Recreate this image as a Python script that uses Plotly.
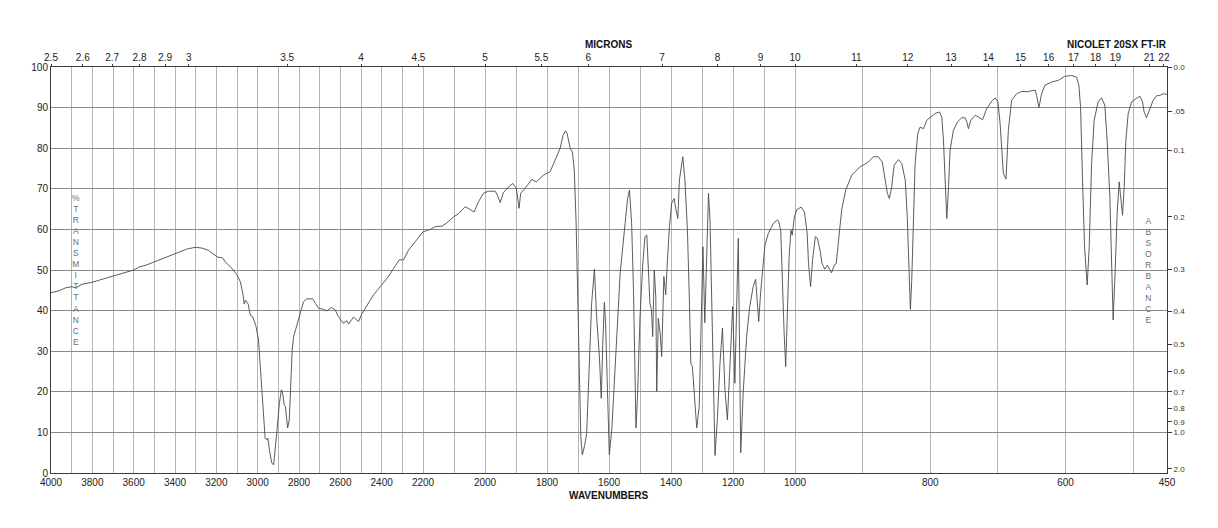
import plotly.graph_objects as go

# ---------------- data ----------------
wavenumber = [
    4000, 3960, 3930, 3900, 3880, 3850, 3800, 3760, 3720, 3700, 3660, 3630, 3600, 3570,
    3540, 3500, 3460, 3420, 3380, 3340, 3300, 3270, 3240, 3210, 3195, 3170, 3157, 3124,
    3100, 3084, 3072, 3065, 3059, 3046, 3036, 3024, 3008, 2996, 2984, 2975, 2964, 2954,
    2951, 2942, 2932, 2923, 2915, 2906, 2895, 2885, 2879, 2872, 2866, 2860, 2855, 2847,
    2840, 2833, 2826, 2809, 2794, 2778, 2762, 2734, 2721, 2705, 2681, 2665, 2644, 2625,
    2609, 2587, 2568, 2560, 2536, 2512, 2495, 2471, 2439, 2407, 2367, 2342, 2315, 2294,
    2270, 2237, 2200, 2176, 2160, 2139, 2123, 2101, 2085, 2064, 2048, 2035, 2021, 2005,
    1989, 1967, 1960, 1951, 1941, 1924, 1910, 1899, 1890, 1885, 1871, 1849, 1835, 1811,
    1790, 1779, 1768, 1758, 1748, 1740, 1735, 1725, 1718, 1712, 1706, 1702, 1696, 1691,
    1686, 1679, 1672, 1663, 1656, 1647, 1640, 1631, 1625, 1620, 1615, 1611, 1604, 1599,
    1591, 1580, 1564, 1548, 1540, 1534, 1527, 1521, 1518, 1513, 1508, 1500, 1491, 1484,
    1478, 1473, 1468, 1463, 1459, 1454, 1449, 1446, 1441, 1435, 1430, 1423, 1417, 1412,
    1405, 1398, 1390, 1384, 1378, 1373, 1366, 1362, 1355, 1347, 1341, 1336, 1331, 1322,
    1317, 1309, 1304, 1297, 1291, 1285, 1279, 1274, 1270, 1265, 1258, 1250, 1242, 1234,
    1226, 1218, 1210, 1201, 1194, 1189, 1183, 1180, 1175, 1167, 1156, 1146, 1135, 1127,
    1122, 1117, 1111, 1102, 1097, 1086, 1070, 1057, 1053, 1046, 1041, 1035, 1030, 1026,
    1019, 1013, 1009, 1002, 997.5, 991, 986, 982, 980, 977, 974, 970, 967, 963,
    960, 956, 952, 949, 946, 942, 939, 936, 931, 925, 916, 904, 891.5, 884,
    877, 871, 867, 863.4, 860.5, 857, 853.5, 847, 842, 837, 834, 831.3, 829.4, 827.4,
    825, 822.4, 818.5, 815, 810, 805, 797.7, 791.4, 786.5, 783, 780.5, 778, 775.6, 773,
    770.7, 765.8, 759.8, 753.4, 748.5, 746, 743.6, 740, 733.7, 728.8, 722.8, 716.4, 709, 704,
    700, 696.7, 694, 692, 688, 684.6, 679.7, 672.3, 664.9, 657.5, 645, 642.8, 639.4, 635.4,
    630.5, 620.6, 610.8, 601, 591, 583.7, 580.3, 577.8, 574.9, 571.9, 568, 565, 561.5, 557.7,
    551.8, 546.8, 541.9, 538.5, 534.5, 532, 529.6, 526.6, 523.7, 520.7, 518.2, 515.7, 513.3, 510.8,
    507.4, 502.4, 496, 490.1, 486.2, 483.8, 480.3, 476.4, 470.5, 465.5, 460.6, 455.7, 450,
]
transmittance = [
    44.4, 44.9, 45.6, 45.9, 45.6, 46.5, 47.0, 47.6, 48.2, 48.4, 49.1, 49.4, 50.0, 50.8,
    51.2, 52.0, 52.8, 53.6, 54.4, 55.2, 55.6, 55.4, 54.9, 53.9, 53.2, 53.0, 52.0, 50.4,
    48.8, 47.1, 44.3, 41.6, 42.6, 41.6, 38.9, 38.5, 36.1, 32.8, 23.8, 16.4, 8.6, 8.2,
    8.6, 5.3, 2.5, 2.0, 5.7, 10.7, 17.2, 20.5, 19.7, 16.8, 16.4, 13.9, 11.1, 13.1,
    22.1, 30.3, 33.6, 36.9, 39.3, 42.2, 42.9, 42.9, 41.8, 40.6, 40.3, 39.9, 40.8, 40.2,
    38.5, 36.9, 37.5, 36.7, 38.4, 37.3, 39.3, 41.4, 43.9, 45.9, 48.4, 50.4, 52.5, 52.5,
    54.9, 57.0, 59.4, 60.0, 60.7, 60.8, 61.6, 63.1, 63.9, 65.6, 64.8, 64.3, 66.8, 68.9,
    69.4, 69.4, 68.4, 66.6, 69.0, 70.5, 71.3, 70.1, 65.2, 68.9, 70.1, 72.3, 71.7, 73.4,
    74.2, 76.2, 78.5, 79.9, 83.2, 84.3, 83.6, 79.9, 79.1, 74.6, 61.5, 48.4, 23.8, 9.0,
    4.5, 6.6, 9.8, 27.9, 41.8, 50.2, 38.5, 28.7, 18.4, 32.0, 42.0, 36.9, 17.2, 4.5,
    10.7, 27.9, 49.2, 61.5, 67.6, 69.7, 61.5, 45.0, 35.2, 11.1, 18.9, 38.5, 51.6, 58.2,
    58.6, 51.6, 41.8, 40.2, 33.6, 50.0, 43.4, 20.1, 38.1, 34.4, 28.7, 48.4, 43.9, 51.6,
    60.7, 66.4, 67.6, 64.8, 62.7, 72.1, 76.6, 77.9, 72.1, 59.8, 43.4, 27.0, 26.2, 16.4,
    11.1, 16.4, 33.0, 55.7, 37.0, 54.0, 68.9, 62.0, 46.7, 22.1, 4.3, 13.9, 27.0, 35.7,
    20.5, 13.1, 26.2, 41.0, 22.1, 40.2, 57.8, 38.5, 5.0, 20.0, 33.6, 41.0, 45.9, 47.7,
    42.6, 37.3, 44.3, 52.5, 56.1, 59.0, 61.5, 62.3, 62.1, 59.8, 46.7, 34.4, 26.2, 37.5,
    53.3, 59.8, 58.6, 63.1, 64.8, 65.5, 64.3, 59.0, 51.6, 45.9, 52.5, 58.2, 57.8, 54.9,
    51.6, 50.2, 51.2, 50.2, 49.3, 51.2, 51.6, 56.6, 64.8, 69.7, 73.4, 75.4, 76.6, 77.9,
    77.9, 76.6, 72.1, 68.9, 67.6, 70.5, 75.8, 77.2, 76.2, 72.1, 63.1, 51.6, 40.3, 47.5,
    63.9, 76.2, 83.6, 85.2, 84.8, 86.9, 87.9, 88.7, 88.9, 87.7, 82.0, 72.1, 62.7, 70.5,
    79.5, 84.4, 86.5, 87.5, 87.5, 86.5, 84.8, 86.9, 88.1, 87.7, 87.0, 89.8, 91.6, 92.4,
    91.4, 86.0, 79.5, 73.8, 72.4, 84.4, 91.8, 93.4, 94.0, 93.9, 94.3, 93.0, 90.0, 93.4,
    95.5, 96.3, 96.7, 97.7, 97.9, 97.5, 95.5, 90.2, 72.1, 55.7, 46.3, 55.7, 76.2, 86.9,
    91.4, 92.4, 90.6, 82.0, 68.0, 51.6, 37.7, 50.0, 63.9, 71.7, 68.0, 63.5, 70.5, 82.0,
    88.5, 91.4, 92.2, 92.8, 91.4, 88.9, 87.5, 89.3, 91.8, 92.9, 93.0, 93.4, 93.3,
]

wavenumber_labels = [4000, 3800, 3600, 3400, 3200, 3000, 2800, 2600, 2400, 2200,
                     2000, 1800, 1600, 1400, 1200, 1000, 800, 600, 450]
grid_wavenumbers = list(range(4000, 400, -100)) + [450]
micron_labels = ["2.5", "2.6", "2.7", "2.8", "2.9", "3", "3.5", "4", "4.5", "5", "5.5",
                 "6", "7", "8", "9", "10", "11", "12", "13", "14", "15", "16", "17",
                 "18", "19", "21", "22"]
absorbance_labels = ["0.0", ".05", "0.1", "0.2", "0.3", "0.4", "0.5", "0.6", "0.7",
                     "0.8", "0.9", "1.0", "2.0"]
transmittance_ticks = list(range(0, 101, 10))


# Nicolet chart x scale: three equal-width panels, 4000-2200, 2200-1000, 1000-450 cm-1
def xscale(wn):
    if wn >= 2200:
        return (4000 - wn) / 1800
    if wn >= 1000:
        return 1 + (2200 - wn) / 1200
    return 2 + (1000 - wn) / 550


FONT = "Liberation Sans, Arial, Helvetica, sans-serif"
GRID_H = "#8a8a8a"
GRID_V = "#b4b4b4"
AXIS = "#3a3a3a"

xs = [xscale(w) for w in wavenumber]

fig = go.Figure()
# invisible copy on the secondary (microns / absorbance) axes so they are drawn
fig.add_trace(go.Scatter(
    x=xs, y=transmittance, mode="lines", line=dict(color="rgba(0,0,0,0)", width=0),
    showlegend=False, hoverinfo="skip", xaxis="x2", yaxis="y2"))
fig.add_trace(go.Scatter(
    x=xs, y=transmittance, mode="lines",
    line=dict(color="#4a4a4a", width=0.9), showlegend=False, hoverinfo="skip",
    xaxis="x", yaxis="y"))

bottom_text = [str(w) if w in wavenumber_labels else "" for w in grid_wavenumbers]
micron_pos = [xscale(10000 / float(m)) for m in micron_labels]
abs_pos = [100 * 10 ** (-float(a)) for a in absorbance_labels]

fig.update_layout(
    width=1218, height=528,
    margin=dict(l=51, r=51, t=67, b=55),
    paper_bgcolor="white", plot_bgcolor="white",
    font=dict(family=FONT, size=10, color="#222"),
    xaxis=dict(range=[0, 3], tickvals=[xscale(w) for w in grid_wavenumbers],
               ticktext=bottom_text, showgrid=True, gridcolor=GRID_V, gridwidth=1,
               ticks="", showline=True, linecolor=AXIS, linewidth=1, mirror=True,
               zeroline=False, tickfont=dict(size=10, color="#222")),
    xaxis2=dict(range=[0, 3], overlaying="x", side="top", anchor="y",
                tickvals=micron_pos, ticktext=micron_labels, ticks="outside",
                ticklen=2, tickcolor=AXIS, showgrid=False, zeroline=False,
                showline=False, ticklabelstandoff=-1,
                tickfont=dict(size=10, color="#222")),
    yaxis=dict(range=[0, 100], tickvals=transmittance_ticks, showgrid=True,
               gridcolor=GRID_H, gridwidth=1, ticks="", showline=True,
               linecolor=AXIS, linewidth=1, mirror=True, zeroline=False,
               tickfont=dict(size=10, color="#222")),
    yaxis2=dict(range=[0, 100], overlaying="y", side="right", anchor="x",
                tickvals=abs_pos, ticktext=absorbance_labels, ticks="outside",
                ticklen=4, tickcolor=AXIS, showgrid=False, zeroline=False,
                showline=False, tickfont=dict(size=8, color="#333")),
)

# white boxes behind the stacked axis titles (between grid and trace)
fig.add_shape(type="rect", xref="paper", yref="y", x0=0.0115, x1=0.0255, y0=32.3, y1=67.2,
              fillcolor="white", line=dict(width=0), layer="between")
fig.add_shape(type="rect", xref="paper", yref="y", x0=0.9815, x1=0.9955, y0=37.0, y1=63.3,
              fillcolor="white", line=dict(width=0), layer="between")

fig.add_annotation(text="<br>".join("%TRANSMITTANCE"), xref="paper", yref="y",
                   x=0.0173, y=50, showarrow=False, align="center",
                   font=dict(size=8.5, color="#6e6e6e", family=FONT))
fig.add_annotation(text="<br>".join("ABSORBANCE"), xref="paper", yref="y",
                   x=0.9885, y=50, showarrow=False, align="center",
                   font=dict(size=8.5, color="#6e6e6e", family=FONT))

fig.add_annotation(text="<b>MICRONS</b>", xref="paper", yref="paper", x=0.5, y=1.0556,
                   yanchor="middle", showarrow=False, font=dict(size=10, color="#111"))
fig.add_annotation(text="<b>NICOLET 20SX FT-IR</b>", xref="paper", yref="paper",
                   x=1.002, y=1.0556, xanchor="right", yanchor="middle", showarrow=False,
                   font=dict(size=10, color="#111"))
fig.add_annotation(text="<b>WAVENUMBERS</b>", xref="paper", yref="paper", x=0.5,
                   y=-0.0558, yanchor="middle", showarrow=False,
                   font=dict(size=10, color="#111"))

fig.write_html("out.html")
